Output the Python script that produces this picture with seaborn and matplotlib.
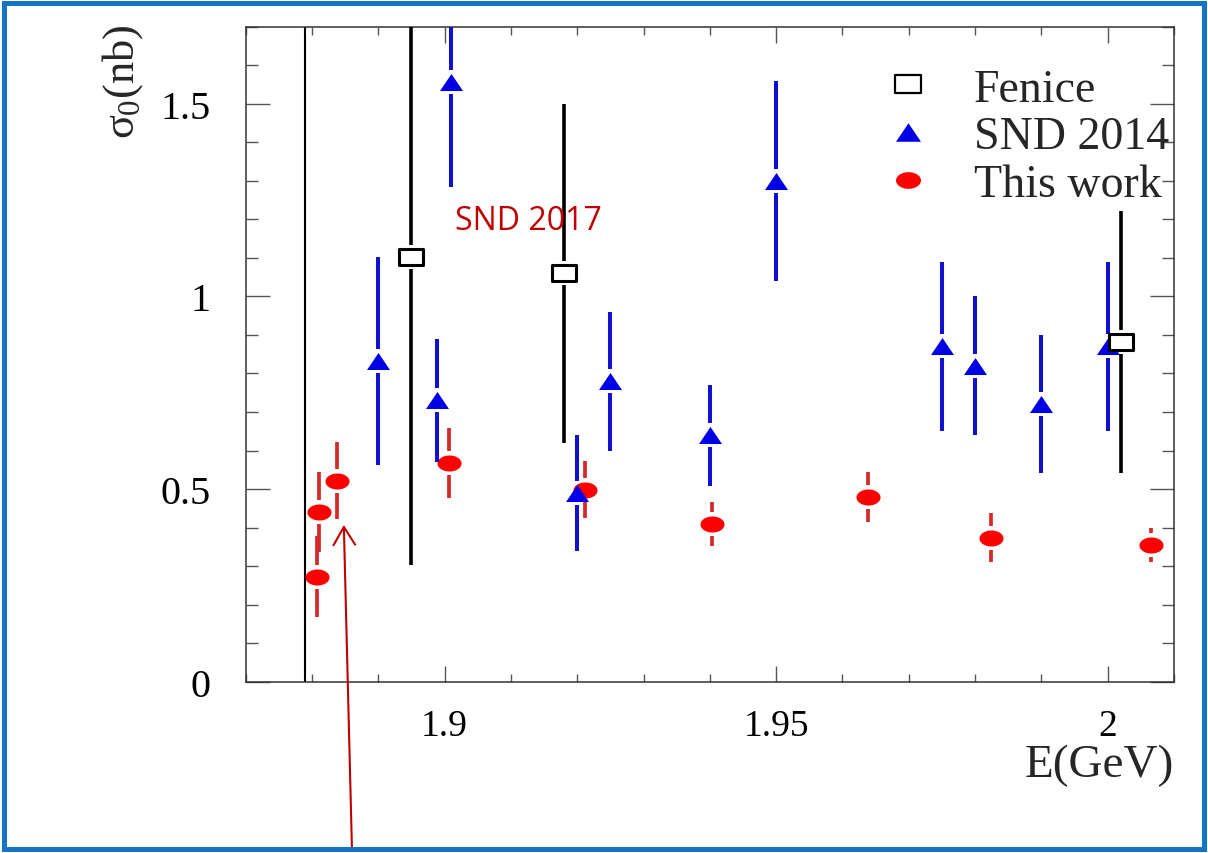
import numpy as np
import pandas as pd
import matplotlib
matplotlib.use("Agg")
import matplotlib.pyplot as plt
import seaborn as sns
from matplotlib.path import Path
from matplotlib.lines import Line2D
from matplotlib.patches import Rectangle
from matplotlib.ticker import MultipleLocator, FixedLocator, FuncFormatter

# ---------------- data ----------------
E_this = [1.8807, 1.8810, 1.8837, 1.9007, 1.9212, 1.9404, 1.9638, 1.9824, 2.0065]
sig_this = [0.273, 0.440, 0.521, 0.567, 0.498, 0.409, 0.479, 0.374, 0.354]
err_this = [0.106, 0.104, 0.100, 0.091, 0.074, 0.057, 0.065, 0.064, 0.044]

E_snd14 = [1.890, 1.8989, 1.9009, 1.920, 1.925, 1.940, 1.950, 1.975, 1.980, 1.990, 2.000]
sig_snd14 = [0.832, 0.730, 1.556, 0.490, 0.780, 0.639, 1.300, 0.870, 0.820, 0.721, 0.870]
err_snd14 = [0.27, 0.16, 0.272, 0.15, 0.18, 0.13, 0.26, 0.22, 0.18, 0.18, 0.22]

E_fenice = [1.895, 1.918, 2.002]
sig_fenice = [1.102, 1.060, 0.881]
err_fenice = [0.80, 0.44, 0.34]

E_threshold = 1.8789

labels = ["Fenice", "SND 2014", "This work"]
x_major = [1.9, 1.95, 2.0]
XMIN, XMAX = 1.87, 2.01
YMIN, YMAX = 0.0, 1.70

note_text = "SND 2017"
note_pos = (1.9126, 1.196)
arrow_tip = (1.8848, 0.407)
arrow_tail_fig = (352 / 1208, 2 / 854)

# ---------------- style ----------------
sns.set_theme(style="ticks")
plt.rcParams.update({
    "axes.facecolor": "white",
    "figure.facecolor": "white",
    "axes.edgecolor": "#333333",
    "axes.linewidth": 1.1,
    "xtick.color": "#555555",
    "ytick.color": "#555555",
    "xtick.labelcolor": "black",
    "ytick.labelcolor": "black",
    "mathtext.fontset": "custom",
    "mathtext.rm": "Liberation Serif",
    "mathtext.it": "Liberation Serif",
    "mathtext.bf": "Liberation Serif:bold",
})
plt.rcParams["font.family"] = ["Liberation Serif", "DejaVu Serif"]

# custom (horizontally wide) markers, as in the reference
t = np.linspace(0, 2 * np.pi, 65)
ellipse = Path(np.column_stack([1.5 * np.cos(t), np.sin(t)]), closed=True)
triangle = Path([(-1.35, -1.0), (1.35, -1.0), (0.0, 1.0), (-1.35, -1.0)], closed=True)
square = Path([(-1.42, -1.0), (1.42, -1.0), (1.42, 1.0), (-1.42, 1.0), (-1.42, -1.0)], closed=True)

RED_M, RED_B = "#ff0000", "#d42a2a"
BLUE_M, BLUE_B = "#0000e6", "#1212cc"
BLACK = "#000000"

fig = plt.figure(figsize=(12.08, 8.54), dpi=100)
ax = fig.add_axes([0.20339, 0.20059, 0.76846, 0.76698])
ax.set_xlim(XMIN, XMAX)
ax.set_ylim(YMIN, YMAX)

# threshold line
ax.axvline(E_threshold, color=BLACK, lw=1.5, zorder=1)

# error bars with a gap around the markers (ROOT style)
px_per_unit = ax.bbox.height / (YMAX - YMIN)
gap = 12.0 / px_per_unit


def bars(E, s, e, color, lw, z):
    E = np.asarray(E); s = np.asarray(s); e = np.asarray(e)
    ax.vlines(E, s + gap, s + e, colors=color, lw=lw, zorder=z, capstyle="butt")
    ax.vlines(E, s - e, s - gap, colors=color, lw=lw, zorder=z, capstyle="butt")


df_this = pd.DataFrame({"E": E_this, "sigma": sig_this})
df_snd = pd.DataFrame({"E": E_snd14, "sigma": sig_snd14})
df_fen = pd.DataFrame({"E": E_fenice, "sigma": sig_fenice})

bars(E_this, sig_this, err_this, RED_B, 2.7, 2)
sns.scatterplot(data=df_this, x="E", y="sigma", ax=ax, marker=ellipse, s=300,
                color=RED_M, edgecolor=RED_M, linewidth=0, zorder=3, legend=False)

bars(E_snd14, sig_snd14, err_snd14, BLUE_B, 2.9, 4)
sns.scatterplot(data=df_snd, x="E", y="sigma", ax=ax, marker=triangle, s=275,
                color=BLUE_M, edgecolor=BLUE_M, linewidth=0, zorder=5, legend=False)

bars(E_fenice, sig_fenice, err_fenice, BLACK, 2.6, 6)
sns.scatterplot(data=df_fen, x="E", y="sigma", ax=ax, marker=square, s=290,
                color="white", edgecolor=BLACK, linewidth=2.2, zorder=7, legend=False)

# axes, ticks
ax.xaxis.set_major_locator(FixedLocator(x_major))
ax.xaxis.set_minor_locator(MultipleLocator(0.01))
ax.yaxis.set_major_locator(MultipleLocator(0.5))
ax.yaxis.set_minor_locator(MultipleLocator(0.1))
fmt = FuncFormatter(lambda v, p: f"{v:g}")
ax.xaxis.set_major_formatter(fmt)
ax.yaxis.set_major_formatter(fmt)
ax.tick_params(axis="x", which="major", direction="in", length=11.5, width=1,
               top=True, bottom=True, pad=19, labelsize=27)
ax.tick_params(axis="x", which="minor", direction="in", length=5.8, width=1,
               top=True, bottom=True)
ax.tick_params(axis="y", which="major", direction="in", length=17, width=1,
               left=True, right=True, pad=25, labelsize=29)
ax.tick_params(axis="y", which="minor", direction="in", length=8.6, width=1,
               left=True, right=True)
for sp in ax.spines.values():
    sp.set_visible(True)

ax.set_xlabel("E(GeV)", fontsize=34)
ax.xaxis.label.set_ha("right")
ax.xaxis.set_label_coords(1.0, -0.094)
ax.set_ylabel(r"$\sigma_{0}$(nb)", fontsize=32)
ax.yaxis.set_label_coords(-0.108, 0.918)

# legend
handles = [
    Line2D([], [], ls="none", marker=square, markersize=18.5, markerfacecolor="white",
           markeredgecolor=BLACK, markeredgewidth=1.6),
    Line2D([], [], ls="none", marker=triangle, markersize=18, markerfacecolor=BLUE_M,
           markeredgecolor=BLUE_M, markeredgewidth=0),
    Line2D([], [], ls="none", marker=ellipse, markersize=18, markerfacecolor=RED_M,
           markeredgecolor=RED_M, markeredgewidth=0),
]
leg = ax.legend(handles, labels, loc="upper left", bbox_to_anchor=(885 / 1208, 1 - 69 / 854),
                bbox_transform=fig.transFigure, frameon=False, fontsize=33,
                handlelength=1.0, handletextpad=0.94, labelspacing=0.11, borderpad=0,
                borderaxespad=0)

# annotation
ax.text(note_pos[0], note_pos[1], note_text, color="#c00000", fontsize=23,
        family=["Open Sans", "DejaVu Sans"], ha="center", va="center", zorder=8)
ax.annotate("", xy=arrow_tip, xycoords="data", xytext=arrow_tail_fig,
            textcoords="figure fraction", annotation_clip=False,
            arrowprops=dict(arrowstyle="->,head_length=0.5,head_width=0.3",
                            mutation_scale=26, color="#c00000", lw=1.5,
                            shrinkA=0, shrinkB=0), zorder=9)

# blue frame around the picture
fig.patches.append(Rectangle((4 / 1208, 4 / 854), 1200 / 1208, 846 / 854,
                             transform=fig.transFigure, fill=False,
                             edgecolor="#1574c4", linewidth=3.6))

fig.savefig("out.png", dpi=100)
